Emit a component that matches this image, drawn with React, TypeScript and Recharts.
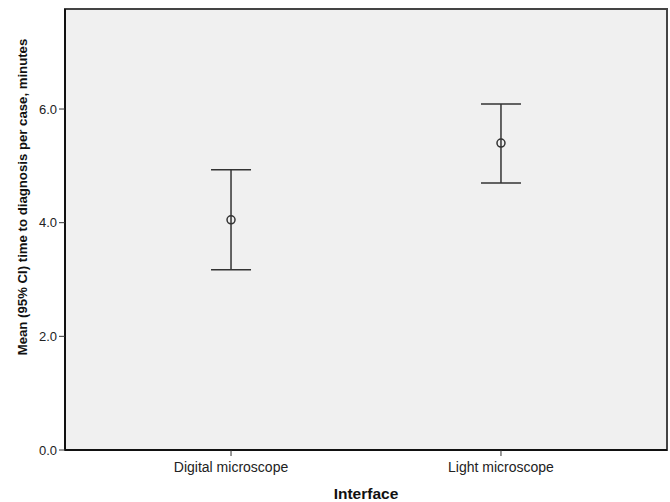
import { ScatterChart, Scatter, ErrorBar, XAxis, YAxis, ReferenceArea } from 'recharts'

const categories = ['Digital microscope', 'Light microscope']
const means = [4.05, 5.4]
const lowerCI = [3.17, 4.7]
const upperCI = [4.93, 6.09]
const yTicks = [0, 2, 4, 6]
const yMax = 7.76
const xDomain = [0.385, 2.615]

const data = categories.map((name, i) => ({
  x: i + 1,
  name,
  mean: means[i],
  err: [means[i] - lowerCI[i], upperCI[i] - means[i]],
}))

const font = '"Liberation Sans", Arial, sans-serif'

function HollowDot(props: any) {
  return <circle cx={props.cx} cy={props.cy} r={4} fill="none" stroke="#333" strokeWidth={1.5} />
}

export default function App() {
  return (
    <div style={{ position: 'fixed', left: 0, top: 0, background: '#fff' }}>
      <ScatterChart width={670} height={502} margin={{ top: 9, right: 3, bottom: 0, left: 0 }}>
        <ReferenceArea
          xAxisId="b"
          yAxisId="l"
          x1={xDomain[0]}
          x2={xDomain[1]}
          y1={0}
          y2={yMax}
          fill="#f0f0f0"
          fillOpacity={1}
          stroke="#444"
          strokeWidth={2}
          ifOverflow="visible"
        />
        <XAxis
          xAxisId="b"
          type="number"
          dataKey="x"
          domain={xDomain}
          ticks={[1, 2]}
          tickFormatter={(v: number) => categories[v - 1] ?? ''}
          height={52}
          tickSize={6}
          tickMargin={6}
          axisLine={{ stroke: '#111', strokeWidth: 2 }}
          tickLine={{ stroke: '#333' }}
          tick={{ fill: '#222', fontSize: 14, fontFamily: font }}
          label={{ value: 'Interface', position: 'insideBottom', offset: 3, fill: '#111', fontSize: 15.5, fontWeight: 'bold', fontFamily: font }}
        />
        <YAxis
          yAxisId="l"
          type="number"
          domain={[0, yMax]}
          ticks={yTicks}
          allowDataOverflow
          width={65}
          tickSize={6}
          tickMargin={2}
          tickFormatter={(v: number) => v.toFixed(1)}
          axisLine={{ stroke: '#111', strokeWidth: 2 }}
          tickLine={{ stroke: '#333' }}
          tick={{ fill: '#222', fontSize: 13, fontFamily: font }}
          label={{
            content: () => (
              <text
                x={0}
                y={0}
                transform="translate(27,197) rotate(-90)"
                textAnchor="middle"
                fill="#111"
                fontSize={13.2}
                fontWeight="bold"
                fontFamily={font}
              >
                Mean (95% CI) time to diagnosis per case, minutes
              </text>
            ),
          }}
        />
        <YAxis yAxisId="r" orientation="right" type="number" domain={[0, 1]} width={0} tick={false} tickLine={false} axisLine={{ stroke: '#444', strokeWidth: 2 }} />
        <Scatter
          xAxisId="b"
          yAxisId="l"
          data={data}
          dataKey="mean"
          shape={HollowDot}
          isAnimationActive={false}
        >
          <ErrorBar dataKey="err" direction="y" width={20} stroke="#333" strokeWidth={1.5} isAnimationActive={false} />
        </Scatter>
      </ScatterChart>
    </div>
  )
}
